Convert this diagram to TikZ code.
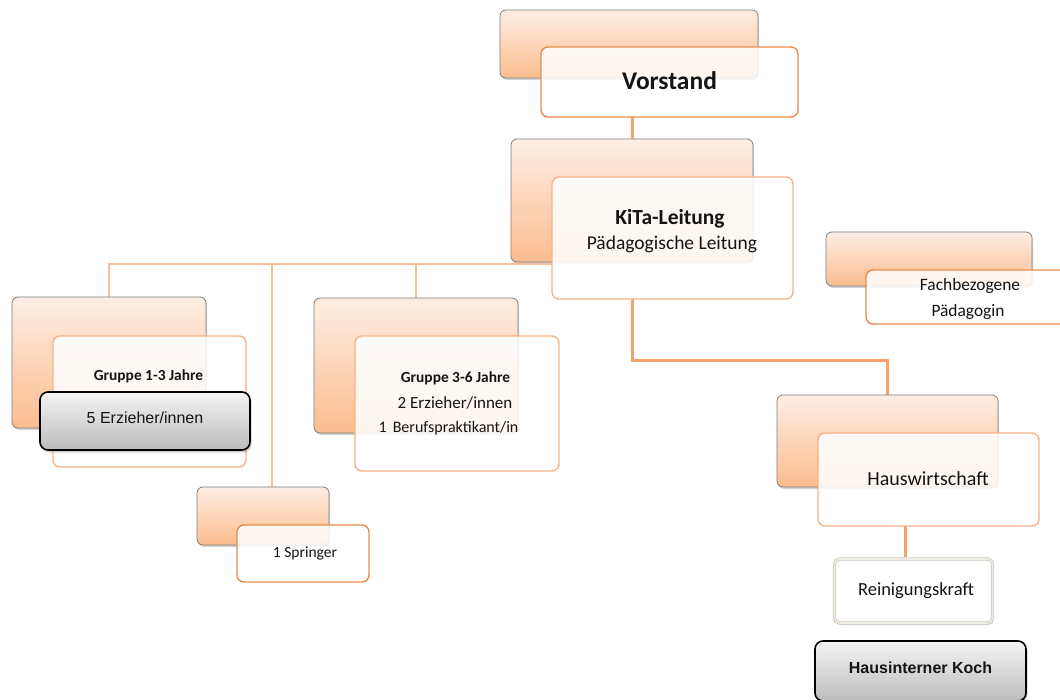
\documentclass[tikz,border=0pt]{standalone}
\usepackage{fontspec}
\setmainfont{Carlito}
\newfontfamily\arialf{Liberation Sans}
\usetikzlibrary{shadows}
\definecolor{backtop}{RGB}{253,238,228}
\definecolor{backbot}{RGB}{252,188,142}
\definecolor{backedge}{RGB}{125,125,125}
\definecolor{frontedge}{RGB}{246,178,136}
\definecolor{frontdark}{RGB}{232,140,75}
\definecolor{connc}{RGB}{248,162,105}
\definecolor{busc}{RGB}{250,190,155}
\definecolor{greytop}{RGB}{244,244,244}
\definecolor{greybot}{RGB}{188,188,188}
\definecolor{rkedge}{RGB}{205,200,185}
\definecolor{rkin}{RGB}{238,236,228}
\definecolor{txt}{RGB}{20,20,20}
\tikzset{
  backbox/.style={rounded corners=6pt, draw=backedge, line width=0.8pt,
    top color=backtop, bottom color=backbot, inner sep=0pt, outer sep=0pt,
    drop shadow={shadow xshift=1.2pt, shadow yshift=-2pt, opacity=0.35}},
  frontbox/.style={rounded corners=7pt, draw=frontedge, line width=1.4pt,
    fill=white, fill opacity=0.86, text opacity=1, text=txt, inner sep=0pt,
    outer sep=0pt, align=center},
  frontdk/.style={frontbox, draw=frontdark},
  greybox/.style={rounded corners=8pt, draw=black, line width=1.6pt,
    top color=greytop, bottom color=greybot, inner sep=0pt, outer sep=0pt,
    align=center, text=txt,
    drop shadow={shadow xshift=1.5pt, shadow yshift=-2.5pt, opacity=0.35}},
  rkbox/.style={rounded corners=5pt, draw=rkedge, line width=0.8pt,
    double=rkin, double distance=1.6pt, fill=white, inner sep=0pt,
    outer sep=0pt, align=center, text=txt,
    drop shadow={shadow xshift=1.2pt, shadow yshift=-2pt, opacity=0.3}},
  lbl/.style={text=txt, inner sep=0pt, outer sep=0pt},
  conn/.style={draw=connc, line width=3pt},
  busline/.style={draw=busc, line width=2.5pt},
}
\newcommand{\fs}[1]{\fontsize{#1}{#1}\selectfont}
\begin{document}
\begin{tikzpicture}[x=1pt,y=-1pt]
\useasboundingbox (0,0) rectangle (1060,700);
% junction coordinates
\coordinate (bus) at (553,264);
\coordinate (spj) at (272,264);
\coordinate (rkj) at (905,526);
% back boxes
\node[backbox, minimum width=258pt, minimum height=68pt] (vorB) at (629,44) {};
\node[backbox, minimum width=242pt, minimum height=123pt] (kitaB) at (632,200.5) {};
% connectors (drawn under the boxes)
\draw[busline] (bus) -| (109,297) coordinate (g13top);
\draw[busline] (bus) -| (416,298) coordinate (g36top);
\draw[busline] (spj) -- (272,487) coordinate (sptop);
\draw[conn] (kitaB.north |- 0,117) -- (kitaB.north);
\draw[conn] (kitaB.north |- 0,299) -- ++(0,62) -| (887.5,395) coordinate (hwtop);
\draw[conn] (rkj) -- (905,557) coordinate (rktop);
% Vorstand
\node[frontdk, minimum width=257pt, minimum height=70pt] (vorF) at (669.5,82) {};
\node[lbl] (vorT) at (669.5,81) {\fs{25.5}\bfseries Vorstand};
% KiTa
\node[frontbox, minimum width=241pt, minimum height=122pt] (kitaF) at (672.5,238) {};
\node[lbl] (kitaT1) at (670,219) {\fs{21.5}\bfseries KiTa-Leitung};
\node[lbl] (kitaT2) at (672,244) {\fs{19.5}Pädagogische Leitung};
% Fachbezogene
\node[backbox, minimum width=206pt, minimum height=54pt] (fachB) at (929,259) {};
\node[frontdk, minimum width=206pt, minimum height=54pt] (fachF) at (969,297) {};
\node[lbl] (fachT1) at (970,286) {\fs{17.4}Fachbezogene};
\node[lbl] (fachT2) at (968,312) {\fs{17.4}Pädagogin};
% Gruppe 1-3
\node[backbox, minimum width=194pt, minimum height=131pt, anchor=north] (g13B) at (g13top) {};
\node[frontbox, minimum width=193pt, minimum height=131pt] (g13F) at (149.5,401.5) {};
\node[lbl] (g13T) at (148.5,376) {\fs{15.4}\bfseries Gruppe 1-3 Jahre};
\node[greybox, minimum width=210pt, minimum height=58pt] (erz) at (145,421) {};
\node[lbl] (erzT) at (145,418) {\arialf\fs{16}5 Erzieher/innen};
% Gruppe 3-6
\node[backbox, minimum width=204pt, minimum height=135pt, anchor=north] (g36B) at (g36top) {};
\node[frontbox, minimum width=204pt, minimum height=135pt] (g36F) at (457,403.5) {};
\node[lbl] (g36T1) at (455.5,378) {\fs{15.4}\bfseries Gruppe 3-6 Jahre};
\node[lbl] (g36T2) at (455,403) {\fs{17}2 Erzieher/innen};
\node[lbl] (g36T3) at (448.5,428) {\fs{16}1\hspace{6pt}Berufspraktikant/in};
% Springer
\node[backbox, minimum width=132pt, minimum height=58pt] (spB) at (263,516) {};
\node[frontdk, minimum width=132pt, minimum height=57pt] (spF) at (303,553.5) {};
\node[lbl] (spT) at (305,553) {\fs{15.5}1 Springer};
% Hauswirtschaft
\node[backbox, minimum width=221pt, minimum height=92pt, anchor=north] (hwB) at (hwtop) {};
\node[frontbox, minimum width=221pt, minimum height=93pt] (hwF) at (928.5,479.5) {};
\node[lbl] (hwT) at (928,479) {\fs{20}Hauswirtschaft};
% Reinigungskraft
\node[rkbox, minimum width=158pt, minimum height=64pt] (rk) at (913.5,591) {};
\node[lbl] (rkT) at (916,591) {\fs{18.5}Reinigungskraft};
% Hausinterner Koch
\node[greybox, minimum width=211pt, minimum height=60pt] (koch) at (920.5,671) {};
\node[lbl] (kochT) at (920.5,668) {\arialf\fs{16}\bfseries Hausinterner Koch};
\end{tikzpicture}
\end{document}
